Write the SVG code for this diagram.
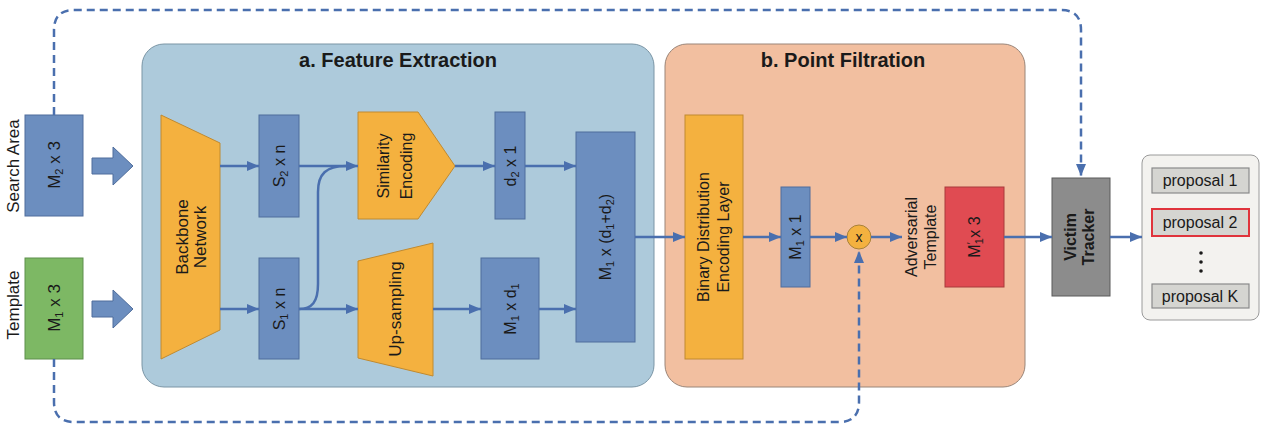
<svg xmlns="http://www.w3.org/2000/svg" width="1269" height="431" viewBox="0 0 1269 431">
<defs>
<style>
text{font-family:"Liberation Sans",Arial,sans-serif;fill:#1a1a1a;}
.t{font-size:16px;text-anchor:middle;}
.b{font-size:17px;}
.title{font-size:20px;font-weight:bold;text-anchor:middle;}
.blue{fill:#6c8ebf;stroke:#4f6d9c;stroke-width:1;}
.orange{fill:#f4b13f;stroke:#c08a30;stroke-width:1;}
.ln{fill:none;stroke:#4a6fae;stroke-width:2.5;}
.dash{fill:none;stroke:#4a6fae;stroke-width:2.5;stroke-dasharray:8,5;}
.prop{fill:#d5d5d1;stroke:#8a8a8a;stroke-width:1.2;}
.sub{font-size:11px;}
</style>
<marker id="ah" viewBox="0 0 12 10" refX="12" refY="5" markerWidth="12" markerHeight="10" markerUnits="userSpaceOnUse" orient="auto">
<path d="M0,0 L12,5 L0,10 z" fill="#4a6fae"/>
</marker>
</defs>
<rect width="1269" height="431" fill="#ffffff"/>

<g id="panel-a">
<rect x="142" y="44" width="512" height="343" rx="22" fill="#adcadb" stroke="#7a95a5" stroke-width="1"/>
<text class="title" x="398" y="67">a. Feature Extraction</text>
</g>
<g id="panel-b">
<rect x="665" y="44" width="360" height="343" rx="22" fill="#f2bfa0" stroke="#9a8578" stroke-width="1"/>
<text class="title" x="843" y="67">b. Point Filtration</text>
</g>

<g id="search-area">
<rect class="blue" x="25" y="115" width="58" height="101"/>
<text class="t b" transform="translate(60,165) rotate(-90)">M<tspan class="sub" baseline-shift="-3">2</tspan> x 3</text>
<text class="t" style="font-size:17px" transform="translate(19,166) rotate(-90)">Search Area</text>
</g>
<g id="template">
<rect x="25" y="258" width="58" height="101" fill="#7db864" stroke="#5e8f4c" stroke-width="1"/>
<text class="t b" transform="translate(60,308) rotate(-90)">M<tspan class="sub" baseline-shift="-3">1</tspan> x 3</text>
<text class="t" style="font-size:17px" transform="translate(19,305) rotate(-90)">Template</text>
</g>
<g id="fat-arrows">
<path d="M92,158 L113,158 L113,147 L133,166 L113,185 L113,174 L92,174 z" fill="#6c8ebf" stroke="#4f6d9c" stroke-width="1"/>
<path d="M92,301 L113,301 L113,290 L133,309 L113,328 L113,317 L92,317 z" fill="#6c8ebf" stroke="#4f6d9c" stroke-width="1"/>
</g>

<g id="backbone">
<polygon class="orange" points="161,115 220,143 220,330 161,359"/>
<text class="t b" transform="translate(188,237) rotate(-90)">Backbone</text>
<text class="t b" transform="translate(206,237) rotate(-90)">Network</text>
</g>
<g id="s2n">
<rect class="blue" x="259" y="115" width="40" height="102"/>
<text class="t" transform="translate(285,166) rotate(-90)">S<tspan class="sub" baseline-shift="-3">2</tspan> x n</text>
</g>
<g id="s1n">
<rect class="blue" x="259" y="258" width="40" height="101"/>
<text class="t" transform="translate(285,309) rotate(-90)">S<tspan class="sub" baseline-shift="-3">1</tspan> x n</text>
</g>
<g id="similarity">
<polygon class="orange" points="358,112 418,112 455,166 418,219 358,219"/>
<text class="t" transform="translate(389,166) rotate(-90)">Similarity</text>
<text class="t" transform="translate(412,166) rotate(-90)">Encoding</text>
</g>
<g id="upsampling">
<polygon class="orange" points="358,261 433,243 433,376 358,358"/>
<text class="t b" transform="translate(401,309) rotate(-90)">Up-sampling</text>
</g>
<g id="d2x1">
<rect class="blue" x="495" y="112" width="30" height="107"/>
<text class="t" transform="translate(516,166) rotate(-90)">d<tspan class="sub" baseline-shift="-3">2</tspan> x 1</text>
</g>
<g id="m1xd1">
<rect class="blue" x="481" y="258" width="58" height="101"/>
<text class="t" transform="translate(516,309) rotate(-90)">M<tspan class="sub" baseline-shift="-3">1</tspan> x d<tspan class="sub" baseline-shift="-3">1</tspan></text>
</g>
<g id="m1xd1d2">
<rect class="blue" x="576" y="132" width="59" height="210"/>
<text class="t" transform="translate(611,237) rotate(-90)">M<tspan class="sub" baseline-shift="-3">1</tspan> x (d<tspan class="sub" baseline-shift="-3">1</tspan>+d<tspan class="sub" baseline-shift="-3">2</tspan>)</text>
</g>

<g id="binary">
<rect class="orange" x="685" y="115" width="58" height="244"/>
<text class="t" transform="translate(709,237) rotate(-90)">Binary Distribution</text>
<text class="t" transform="translate(729,237) rotate(-90)">Encoding Layer</text>
</g>
<g id="m1x1">
<rect class="blue" x="781" y="187" width="29" height="100"/>
<text class="t" transform="translate(801,237) rotate(-90)">M<tspan class="sub" baseline-shift="-3">1</tspan> x 1</text>
</g>
<g id="multiply">
<circle cx="859" cy="237" r="12" fill="#f4b13f" stroke="#a8813a" stroke-width="1"/>
<text x="859" y="242" style="font-size:14px;text-anchor:middle">x</text>
</g>
<g id="adv-label">
<text class="t" transform="translate(917,237) rotate(-90)">Adversarial</text>
<text class="t" transform="translate(936,237) rotate(-90)">Template</text>
</g>
<g id="adv-template">
<rect x="945" y="187" width="59" height="100" fill="#e04b52" stroke="#a83a3a" stroke-width="1"/>
<text class="t" transform="translate(980,237) rotate(-90)">M<tspan class="sub" baseline-shift="-3">1</tspan><tspan class="sub" dx="-6" baseline-shift="5">′</tspan> x 3</text>
</g>

<g id="victim">
<rect x="1052" y="178" width="58" height="118" fill="#8c8c8c" stroke="#5a5a5a" stroke-width="1"/>
<text class="t" style="font-weight:bold" transform="translate(1076,237) rotate(-90)">Victim</text>
<text class="t" style="font-weight:bold" transform="translate(1094,237) rotate(-90)">Tracker</text>
</g>

<g id="proposals">
<rect x="1142" y="155" width="117" height="165" rx="8" fill="#f3f2ef" stroke="#9a9a9a" stroke-width="1"/>
<rect class="prop" x="1152" y="168" width="97" height="25"/>
<text class="t" x="1200" y="186">proposal 1</text>
<rect x="1152" y="209" width="97" height="27" fill="#d5d5d1" stroke="#e0343c" stroke-width="2"/>
<text class="t" x="1200" y="228">proposal 2</text>
<circle cx="1201" cy="253" r="1.8" fill="#1a1a1a"/>
<circle cx="1201" cy="262" r="1.8" fill="#1a1a1a"/>
<circle cx="1201" cy="271" r="1.8" fill="#1a1a1a"/>
<rect class="prop" x="1152" y="284" width="97" height="24"/>
<text class="t" x="1200" y="302">proposal K</text>
</g>

<g id="connectors">
<line class="ln" x1="220" y1="166" x2="259" y2="166" marker-end="url(#ah)"/>
<line class="ln" x1="220" y1="309" x2="259" y2="309" marker-end="url(#ah)"/>
<line class="ln" x1="299" y1="166" x2="358" y2="166" marker-end="url(#ah)"/>
<line class="ln" x1="299" y1="309" x2="358" y2="309" marker-end="url(#ah)"/>
<path class="ln" d="M299,309 C312,309 318,302 318,284 L318,192 C318,174 326,166 346,166"/>
<line class="ln" x1="455" y1="166" x2="495" y2="166" marker-end="url(#ah)"/>
<line class="ln" x1="433" y1="309" x2="481" y2="309" marker-end="url(#ah)"/>
<line class="ln" x1="525" y1="166" x2="576" y2="166" marker-end="url(#ah)"/>
<line class="ln" x1="539" y1="309" x2="576" y2="309" marker-end="url(#ah)"/>
<line class="ln" x1="635" y1="237" x2="685" y2="237" marker-end="url(#ah)"/>
<line class="ln" x1="743" y1="237" x2="781" y2="237" marker-end="url(#ah)"/>
<line class="ln" x1="810" y1="237" x2="847" y2="237" marker-end="url(#ah)"/>
<line class="ln" x1="871" y1="237" x2="902" y2="237" marker-end="url(#ah)"/>
<line class="ln" x1="1004" y1="237" x2="1052" y2="237" marker-end="url(#ah)"/>
<line class="ln" x1="1110" y1="237" x2="1142" y2="237" marker-end="url(#ah)"/>
<path class="dash" d="M54,115 L54,30 Q54,10 74,10 L1061,10 Q1081,10 1081,30 L1081,176" marker-end="url(#ah)"/>
<path class="dash" d="M54,359 L54,402 Q54,422 74,422 L839,422 Q859,422 859,402 L859,251" marker-end="url(#ah)"/>
</g>
</svg>
